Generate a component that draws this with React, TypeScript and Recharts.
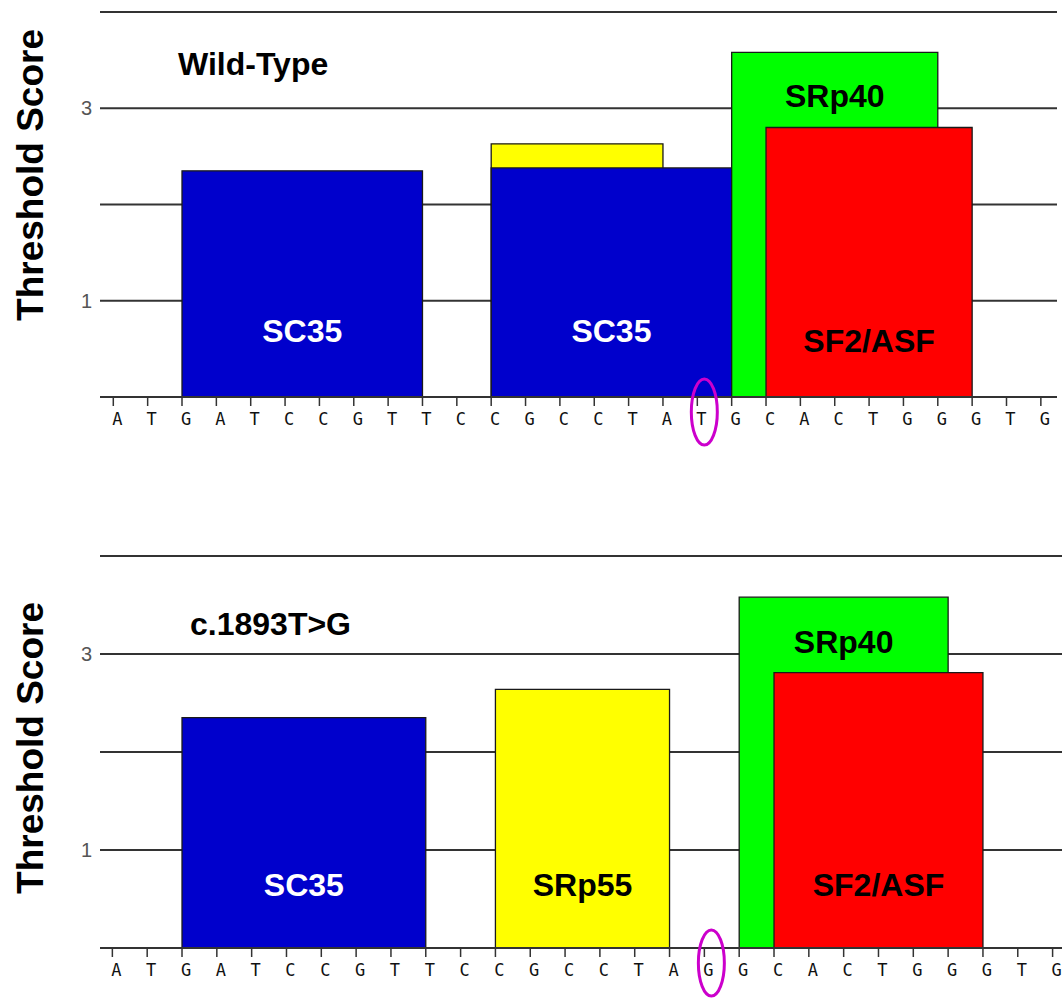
import React from 'react';
import { ComposedChart, XAxis, YAxis, CartesianGrid, ReferenceArea, Line } from 'recharts';

// ---------- data ----------
const wildTypeSequence = ['A','T','G','A','T','C','C','G','T','T','C','C','G','C','C','T','A','T','G','C','A','C','T','G','G','G','T','G'];
const mutantSequence = ['A','T','G','A','T','C','C','G','T','T','C','C','G','C','C','T','A','G','G','C','A','C','T','G','G','G','T','G'];
const mutationPosition = 17;
const positions = wildTypeSequence.map((_, i) => i);

const wildTypeMotifs = [
  { protein: 'SC35', start: 2, end: 9, score: 2.35, label: 'SC35' },
  { protein: 'SRp55', start: 11, end: 16, score: 2.63, label: '' },
  { protein: 'SC35', start: 11, end: 18, score: 2.38, label: 'SC35' },
  { protein: 'SRp40', start: 18, end: 24, score: 3.58, label: 'SRp40' },
  { protein: 'SF2/ASF', start: 19, end: 25, score: 2.8, label: 'SF2/ASF' },
];
const mutantMotifs = [
  { protein: 'SC35', start: 2, end: 9, score: 2.35, label: 'SC35' },
  { protein: 'SRp55', start: 11, end: 16, score: 2.64, label: 'SRp55' },
  { protein: 'SRp40', start: 18, end: 24, score: 3.58, label: 'SRp40' },
  { protein: 'SF2/ASF', start: 19, end: 25, score: 2.81, label: 'SF2/ASF' },
];
const yTickLabels = [1, 3];
const gridValues = [1, 2, 3, 4];

// ---------- styles ----------
const proteinStyle: Record<string, { fill: string; text: string; place: 'top' | 'bottom' }> = {
  SC35: { fill: '#0000CC', text: '#FFFFFF', place: 'bottom' },
  SRp55: { fill: '#FFFF00', text: '#000000', place: 'bottom' },
  SRp40: { fill: '#00FF00', text: '#000000', place: 'top' },
  'SF2/ASF': { fill: '#FF0000', text: '#000000', place: 'bottom' },
};

const FONT = "'Liberation Sans', Arial, sans-serif";

const NucleotideTick = (props: any) => {
  const { x, y, payload, sequence } = props;
  const idx = payload.value as number;
  const letter = sequence[idx];
  return (
    <g>
      <text x={x + 4} y={y + 17} textAnchor="middle" fontFamily="'DejaVu Sans Mono', monospace" fontSize={17} fill="#111">
        {letter}
      </text>
      {idx === mutationPosition && (
        <ellipse cx={x + 7} cy={y + 4} rx={13} ry={33} fill="none" stroke="#CC00CC" strokeWidth={3} />
      )}
    </g>
  );
};

type PanelProps = {
  top: number;
  height: number;
  marginTop: number;
  marginRight: number;
  xAxisHeight: number;
  domain: [number, number];
  sequence: string[];
  motifs: typeof mutantMotifs;
  title: string;
  titleLeft: number;
  titleTop: number;
  labelCenterY: number;
  bottomOffset: number[];
  topOffset: number;
};

const Panel = (p: PanelProps) => {
  const data = positions.map((i) => ({ pos: i, nucleotide: p.sequence[i], base: 0 }));
  return (
    <div style={{ position: 'absolute', left: 0, top: p.top, width: 1062, height: p.height }}>
      <ComposedChart
        width={1062}
        height={p.height}
        data={data}
        margin={{ top: p.marginTop, right: p.marginRight, left: 0, bottom: 0 }}
      >
        <CartesianGrid vertical={false} horizontalValues={gridValues} stroke="#333" strokeWidth={1.8} />
        <XAxis
          dataKey="pos"
          type="number"
          domain={p.domain}
          allowDataOverflow
          ticks={positions}
          interval={0}
          height={p.xAxisHeight}
          tickSize={9}
          tickMargin={2}
          axisLine={{ stroke: '#333', strokeWidth: 2 }}
          tickLine={{ stroke: '#333', strokeWidth: 1.5 }}
          tick={<NucleotideTick sequence={p.sequence} />}
        />
        <YAxis
          type="number"
          domain={[0, 4]}
          allowDataOverflow
          ticks={yTickLabels}
          width={100}
          axisLine={false}
          tickLine={false}
          tickSize={6}
          tickMargin={2}
          tick={{ fill: '#555', fontSize: 20, fontFamily: FONT }}
          label={{
            content: () => (
              <text
                x={30}
                y={p.labelCenterY}
                transform={`rotate(-90, 30, ${p.labelCenterY})`}
                textAnchor="middle"
                dominantBaseline="central"
                fontFamily={FONT}
                fontWeight="bold"
                fontSize={37}
                fill="#000"
              >
                Threshold Score
              </text>
            ),
          }}
        />
        <Line dataKey="base" stroke="none" dot={false} activeDot={false} isAnimationActive={false} legendType="none" />
        {p.motifs.map((m, i) => {
          const st = proteinStyle[m.protein];
          return (
            <ReferenceArea
              key={i}
              x1={m.start}
              x2={m.end}
              y1={0}
              y2={m.score}
              fill={st.fill}
              fillOpacity={1}
              stroke="#1a1a1a"
              strokeWidth={1.3}
              ifOverflow="visible"
              label={
                m.label
                  ? {
                      value: m.label,
                      position: st.place === 'top' ? 'insideTop' : 'insideBottom',
                      offset: st.place === 'top' ? p.topOffset : p.bottomOffset[i],
                      fill: st.text,
                      fontSize: 32,
                      fontWeight: 'bold',
                      fontFamily: FONT,
                    }
                  : undefined
              }
            />
          );
        })}
      </ComposedChart>
      <div
        style={{
          position: 'absolute',
          left: p.titleLeft,
          top: p.titleTop,
          fontFamily: FONT,
          fontWeight: 'bold',
          fontSize: 32,
          lineHeight: '32px',
          color: '#000',
          whiteSpace: 'nowrap',
        }}
      >
        {p.title}
      </div>
    </div>
  );
};

export default function App() {
  return (
    <div style={{ position: 'absolute', left: 0, top: 0, width: 1062, height: 998, background: '#fff', overflow: 'hidden' }}>
      <Panel
        top={0}
        height={470}
        marginTop={12}
        marginRight={5}
        xAxisHeight={73}
        domain={[-0.387, 27.47]}
        sequence={wildTypeSequence}
        motifs={wildTypeMotifs}
        title="Wild-Type"
        titleLeft={178}
        titleTop={48}
        labelCenterY={175}
        bottomOffset={[55, 0, 55, 0, 45]}
        topOffset={32}
      />
      <Panel
        top={540}
        height={458}
        marginTop={16}
        marginRight={0}
        xAxisHeight={50}
        domain={[-0.355, 27.27]}
        sequence={mutantSequence}
        motifs={mutantMotifs}
        title="c.1893T>G"
        titleLeft={190}
        titleTop={68}
        labelCenterY={208}
        bottomOffset={[52, 52, 0, 52]}
        topOffset={33}
      />
    </div>
  );
}
